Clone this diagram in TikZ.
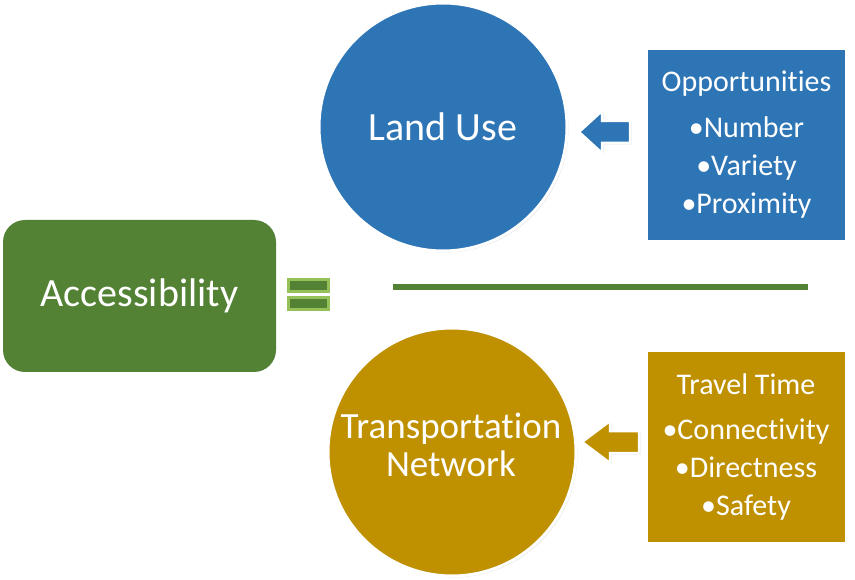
\documentclass[tikz,border=0pt]{standalone}
\usepackage{fontspec}
\setmainfont[Ligatures={NoCommon}]{Carlito}
\usetikzlibrary{shadows}
\definecolor{accgreen}{RGB}{84,130,53}
\definecolor{eqborder}{RGB}{150,192,88}
\definecolor{luBlue}{RGB}{46,117,182}
\definecolor{tnGold}{RGB}{191,144,0}
\begin{document}
\begin{tikzpicture}[x=1pt,y=-1pt,
  softshadow/.style={drop shadow={opacity=0.22,shadow xshift=1.5pt,shadow yshift=-1.5pt}},
  accbox/.style={rectangle,rounded corners=22pt,fill=accgreen,minimum width=273pt,minimum height=152pt,
    text=white,font=\fontsize{40}{44}\selectfont,inner sep=0pt},
  eqbar/.style={rectangle,fill=accgreen,draw=eqborder,line width=3pt,minimum width=40pt,minimum height=12pt,inner sep=0pt},
  bigcircle/.style={circle,draw=white,line width=3pt,minimum size=248pt,inner sep=0pt,text=white,
    font=\fontsize{37}{38}\selectfont,align=center,softshadow},
  infobox/.style={rectangle,draw=white,line width=3pt,minimum width=200pt,minimum height=193pt,inner sep=0pt,
    text=white,font=\fontsize{30}{38}\selectfont,align=center,softshadow},
  blockarrow/.style={draw=white,line width=2.5pt,line join=miter,softshadow}
]
\useasboundingbox (0,0) rectangle (855,580);

% Accessibility
\node[accbox] (acc) at (139.5,296) {Accessibility};

% equals sign
\node[eqbar] (eqtop) at (308.5,285.5) {};
\node[eqbar] (eqbot) at (308.5,303.5) {};

% fraction line
\coordinate (lineL) at (393,287);
\coordinate (lineR) at (808,287);
\draw[accgreen,line width=6pt] (lineL) -- (lineR);

% circles
\node[bigcircle,fill=luBlue,font=\fontsize{40}{38}\selectfont] (lu) at (443,127) {Land Use};
\node[bigcircle,fill=tnGold] (tn) at (452,452) {};
\node[text=white,font=\fontsize{37}{38}\selectfont,align=center] (tntext) at (451,445) {Transportation\\Network};

% info boxes
\node[infobox,fill=luBlue] (opp) at (746.5,145) {Opportunities\\[8pt]•Number\\•Variety\\•Proximity};
\node[infobox,fill=tnGold] (tt) at (746,447) {Travel Time\\[8pt]•Connectivity\\•Directness\\•Safety};

% block arrows
\coordinate (tipA) at (579,132);
\draw[blockarrow,fill=luBlue] (tipA) -- ++(23,-21) -- ++(0,10) -- ++(28,0) -- ++(0,22) -- ++(-28,0) -- ++(0,10) -- cycle;
\coordinate (tipB) at (582,442);
\draw[blockarrow,fill=tnGold] (tipB) -- ++(28,-21) -- ++(0,10) -- ++(29,0) -- ++(0,22) -- ++(-29,0) -- ++(0,10) -- cycle;
\end{tikzpicture}
\end{document}
